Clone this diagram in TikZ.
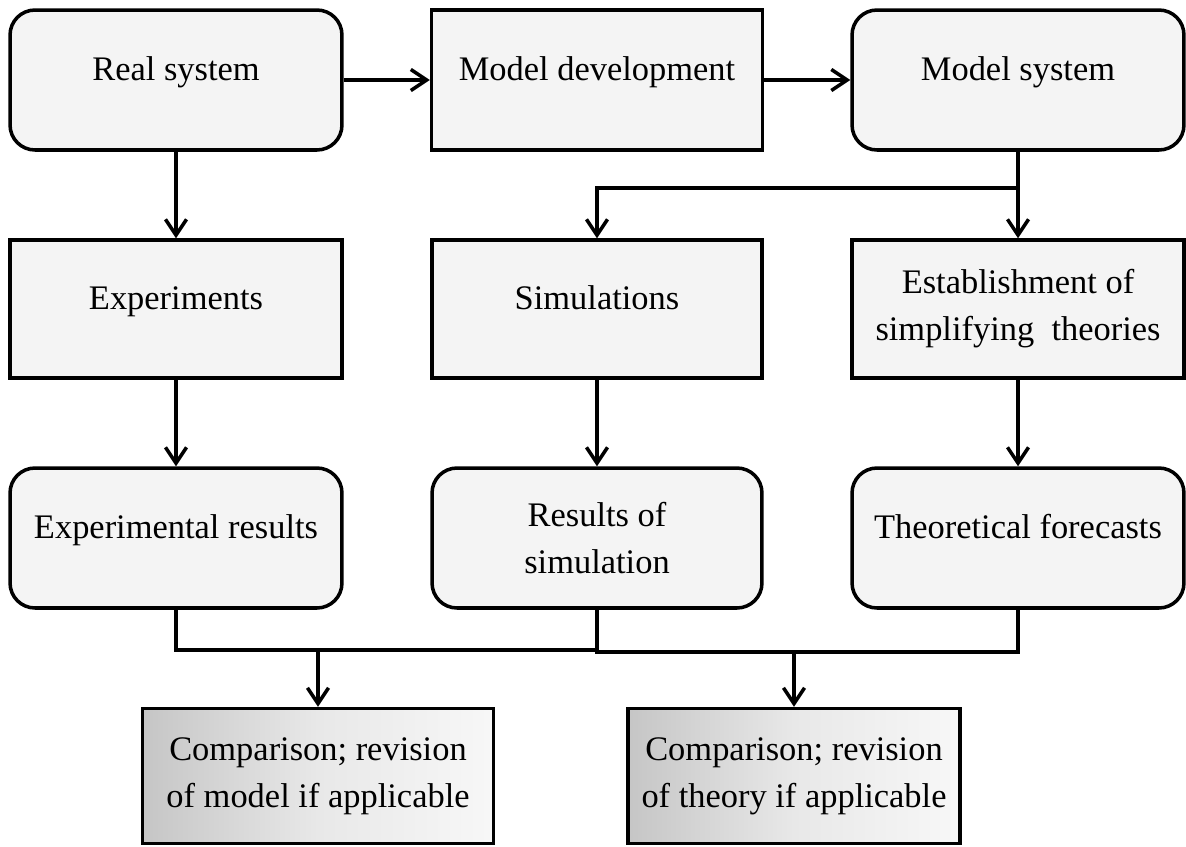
\documentclass[tikz,border=0pt]{standalone}
\usepackage{fontspec}
\setmainfont{Liberation Serif}
\usetikzlibrary{arrows.meta}

\begin{document}
\begin{tikzpicture}[x=0.02cm, y=-0.02cm,
    box/.style={draw=black, line width=2pt, fill=gray!9, align=center,
      font=\fontsize{19.6}{26.7}\selectfont, inner sep=0pt},
    roundbox/.style={box, rounded corners=0.5cm},
    oneline/.style={text height=0.3cm, text depth=0.3cm},
    cmpbox/.style={box, left color=gray!45, right color=gray!6, middle color=gray!18},
    line/.style={line width=2pt},
    arr/.style={line, -{Straight Barb[length=9pt,width=12pt]}}]
    \useasboundingbox (0,0) rectangle (1186,846);
    % top row
    \node[roundbox, oneline, minimum width=6.64cm, minimum height=2.8cm] (real) at (176,80) {Real system};
    \node[box, oneline, minimum width=6.62cm, minimum height=2.8cm] (modeldev) at (597,80) {Model development};
    \node[roundbox, oneline, minimum width=6.64cm, minimum height=2.8cm] (modsys) at (1018,80) {Model system};
    % second row
    \node[box, oneline, minimum width=6.64cm, minimum height=2.76cm] (exper) at (176,309) {Experiments};
    \node[box, oneline, minimum width=6.6cm, minimum height=2.76cm] (simul) at (597,309) {Simulations};
    \node[box, minimum width=6.64cm, minimum height=2.76cm] (estab) at (1018,309) {Establishment of\\simplifying\ \ theories};
    % third row
    \node[roundbox, oneline, minimum width=6.64cm, minimum height=2.8cm] (expres) at (176,538) {Experimental results};
    \node[roundbox, minimum width=6.6cm, minimum height=2.8cm] (simres) at (597,538) {Results of\\simulation};
    \node[roundbox, oneline, minimum width=6.64cm, minimum height=2.8cm] (forecast) at (1018,538) {Theoretical forecasts};
    % comparison boxes
    \node[cmpbox, minimum width=7.02cm, minimum height=2.7cm] (cmpmodel) at (318,776) {Comparison; revision\\of model if applicable};
    \node[cmpbox, minimum width=6.64cm, minimum height=2.7cm] (cmptheory) at (794,776) {Comparison; revision\\of theory if applicable};

    \draw[arr] (real) -- (modeldev);
    \draw[arr] (modeldev) -- (modsys);
    \draw[arr] (real.south) -- (exper.north);
    \draw[arr] (modsys.south) -- (estab.north);
    \coordinate (split) at (1018,188);
    \draw[arr] (split) -| (simul.north);
    \draw[arr] (exper) -- (expres);
    \draw[arr] (simul) -- (simres);
    \draw[arr] (estab) -- (forecast);
    % joining lines
    \coordinate (busA) at (318,650);
    \coordinate (busB) at (794,652);
    \draw[line] (expres.south) |- (busA) -| (simres.south);
    \draw[line] (simres.south) |- (busB) -| (forecast.south);
    \draw[arr] (busA) -- (cmpmodel.north);
    \draw[arr] (busB) -- (cmptheory.north);
\end{tikzpicture}
\end{document}
